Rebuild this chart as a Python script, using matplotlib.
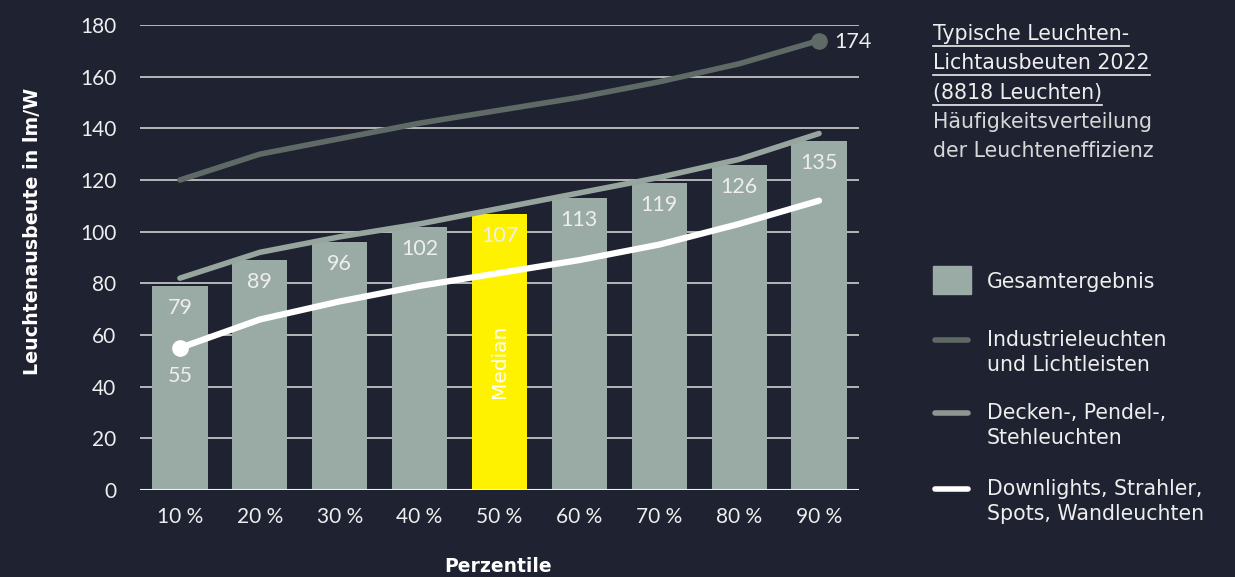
import matplotlib
matplotlib.use("Agg")
import matplotlib.pyplot as plt
from matplotlib.patches import Rectangle
from matplotlib.lines import Line2D

plt.rcParams['font.family'] = ['Lato', 'DejaVu Sans']
WIDE = ['DejaVu Sans']

percentiles = ['10 %', '20 %', '30 %', '40 %', '50 %', '60 %', '70 %', '80 %', '90 %']
gesamt = [79, 89, 96, 102, 107, 113, 119, 126, 135]
industrie = [120, 130, 136, 142, 147, 152, 158, 165, 174]
decken = [82, 92, 98, 103, 109, 115, 121, 128, 138]
downlights = [55, 66, 73, 79, 84, 89, 95, 103, 112]

BG = '#1f2230'
BAR = '#9aaaa5'
YELLOW = '#fff200'
C_IND = '#5f6a66'
C_DEC = '#97a59f'
C_DOWN = '#ffffff'
TXT = '#eeeeee'

W, H = 1235, 577
def fx(x): return x / W
def fy(y): return 1 - y / H

fig = plt.figure(figsize=(W / 100, H / 100), dpi=100, facecolor=BG)
ax = fig.add_axes([fx(140), fy(490), fx(859) - fx(140), fy(25) - fy(490)])
ax.set_facecolor(BG)

x = list(range(len(percentiles)))
colors = [YELLOW if i == 4 else BAR for i in x]
ax.bar(x, gesamt, width=0.69, color=colors, zorder=2)

ax.plot(x, industrie, color=C_IND, lw=4, solid_capstyle='round', zorder=3)
ax.plot(x, decken, color=C_DEC, lw=4, solid_capstyle='round', zorder=3)
ax.plot(x, downlights, color=C_DOWN, lw=4.5, solid_capstyle='round', zorder=4)
ax.plot(x[-1], industrie[-1], 'o', color=C_IND, ms=11, zorder=3)
ax.plot(x[0], downlights[0], 'o', color=C_DOWN, ms=11, zorder=4)

for i, v in enumerate(gesamt):
    ax.annotate(str(v), (i, v), xytext=(0, -16), textcoords='offset points',
                ha='center', va='center', color=TXT, fontsize=15.5, zorder=5)
ax.annotate(str(industrie[-1]), (x[-1], industrie[-1]), xytext=(11, -1),
            textcoords='offset points', ha='left', va='center', color=TXT, fontsize=15.5)
ax.annotate(str(downlights[0]), (x[0], downlights[0]), xytext=(0, -20),
            textcoords='offset points', ha='center', va='center', color=TXT, fontsize=15.5)
ax.text(4, 50, 'Median', rotation=90, ha='center', va='center', color='white',
        fontsize=14.5, family=WIDE, zorder=5)

ax.set_xlim(-0.5, 8.5)
ax.set_ylim(0, 180)
ax.set_yticks(range(0, 181, 20))
ax.set_xticks(x)
ax.set_xticklabels(percentiles)
ax.grid(axis='y', color='#cfcfcf', lw=1.2, zorder=1)
ax.set_axisbelow(True)
for s in ax.spines.values():
    s.set_visible(False)
ax.axhline(0, color='#f2f2f2', lw=1.5, zorder=3)
ax.tick_params(length=0, colors=TXT, labelsize=15)
ax.tick_params(axis='y', pad=17)
ax.tick_params(axis='x', pad=12)

fig.text(fx(33), fy(231), 'Leuchtenausbeute in lm/W', rotation=90, ha='center', va='center',
         color='white', fontsize=13.7, fontweight='bold', family=WIDE)
fig.text(fx(498), fy(566), 'Perzentile', ha='center', va='center',
         color='white', fontsize=13.5, fontweight='bold', family=WIDE)

# title block
title_lines = [('Typische Leuchten-', 34, True), ('Lichtausbeuten 2022', 63, True),
               ('(8818 Leuchten)', 93, True), ('Häufigkeitsverteilung', 122, False),
               ('der Leuchteneffizienz', 151, False)]
renderer = fig.canvas.get_renderer()
for txt, yy, ul in title_lines:
    t = fig.text(fx(933), fy(yy), txt, ha='left', va='center', color=TXT if ul else '#d8d8d8',
                 fontsize=14.8, family=WIDE)
    if ul:
        bb = t.get_window_extent(renderer)
        fig.add_artist(Line2D([fx(933), fx(933) + bb.width / W], [fy(yy + 12)] * 2,
                              color=TXT, lw=1.2, transform=fig.transFigure))

# legend
fig.add_artist(Rectangle((fx(933), fy(294)), fx(971) - fx(933), fy(266) - fy(294),
                         color=BAR, transform=fig.transFigure))
fig.text(fx(987), fy(282), 'Gesamtergebnis', ha='left', va='center', color=TXT,
         fontsize=14.8, family=WIDE)
legend_lines = [(C_IND, 340, ['Industrieleuchten', 'und Lichtleisten']),
                ('#8f9593', 413, ['Decken-, Pendel-,', 'Stehleuchten']),
                (C_DOWN, 489, ['Downlights, Strahler,', 'Spots, Wandleuchten'])]
for col, yy, lines in legend_lines:
    fig.add_artist(Line2D([fx(935), fx(968)], [fy(yy)] * 2, color=col, lw=4,
                          solid_capstyle='round', transform=fig.transFigure))
    for k, ln in enumerate(lines):
        fig.text(fx(987), fy(yy + 25 * k), ln, ha='left', va='center', color=TXT,
                 fontsize=14.8, family=WIDE)

fig.savefig('out.png', dpi=100, facecolor=BG)
